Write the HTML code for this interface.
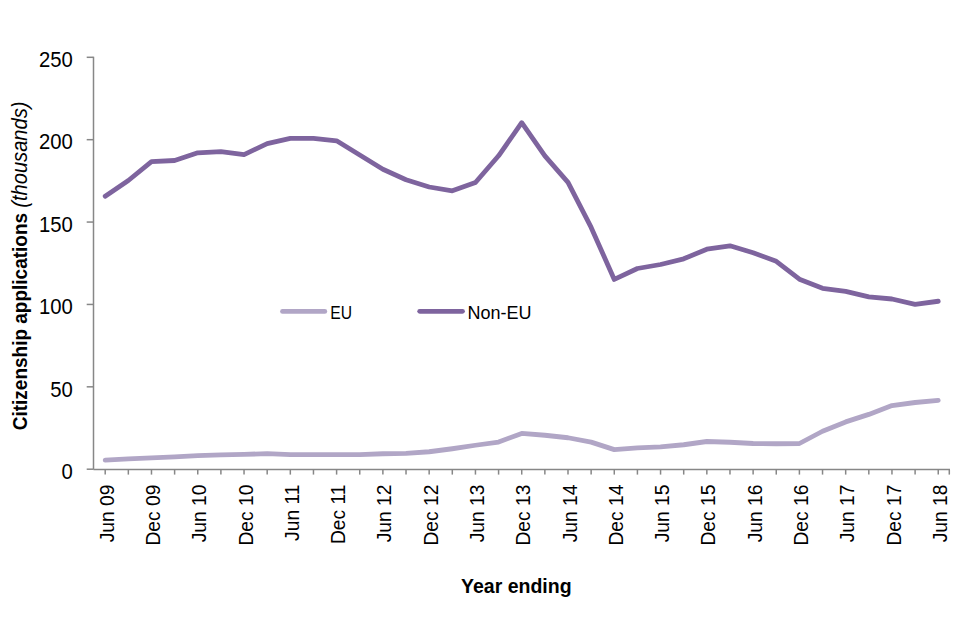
<!DOCTYPE html>
<html><head><meta charset="utf-8"><title>Citizenship applications</title>
<style>html,body{margin:0;padding:0;background:#fff;width:960px;height:640px;overflow:hidden;font-family:"Liberation Sans",sans-serif;}svg{display:block}</style>
</head><body>
<svg width="960" height="640" viewBox="0 0 960 640">
<rect width="960" height="640" fill="#fff"/>
<g stroke="#878787" stroke-width="1.5" fill="none" shape-rendering="auto">
<line x1="93.5" y1="56.8" x2="93.5" y2="469.5"/>
<line x1="86.7" y1="469.20" x2="93.5" y2="469.20"/>
<line x1="86.7" y1="386.82" x2="93.5" y2="386.82"/>
<line x1="86.7" y1="304.44" x2="93.5" y2="304.44"/>
<line x1="86.7" y1="222.06" x2="93.5" y2="222.06"/>
<line x1="86.7" y1="139.68" x2="93.5" y2="139.68"/>
<line x1="86.7" y1="57.30" x2="93.5" y2="57.30"/>
<line x1="93.5" y1="469.6" x2="950" y2="469.6"/>
<line x1="105.20" y1="469.6" x2="105.20" y2="474.6"/>
<line x1="128.34" y1="469.6" x2="128.34" y2="474.6"/>
<line x1="151.48" y1="469.6" x2="151.48" y2="474.6"/>
<line x1="174.62" y1="469.6" x2="174.62" y2="474.6"/>
<line x1="197.76" y1="469.6" x2="197.76" y2="474.6"/>
<line x1="220.90" y1="469.6" x2="220.90" y2="474.6"/>
<line x1="244.04" y1="469.6" x2="244.04" y2="474.6"/>
<line x1="267.18" y1="469.6" x2="267.18" y2="474.6"/>
<line x1="290.32" y1="469.6" x2="290.32" y2="474.6"/>
<line x1="313.46" y1="469.6" x2="313.46" y2="474.6"/>
<line x1="336.60" y1="469.6" x2="336.60" y2="474.6"/>
<line x1="359.74" y1="469.6" x2="359.74" y2="474.6"/>
<line x1="382.88" y1="469.6" x2="382.88" y2="474.6"/>
<line x1="406.02" y1="469.6" x2="406.02" y2="474.6"/>
<line x1="429.16" y1="469.6" x2="429.16" y2="474.6"/>
<line x1="452.30" y1="469.6" x2="452.30" y2="474.6"/>
<line x1="475.44" y1="469.6" x2="475.44" y2="474.6"/>
<line x1="498.58" y1="469.6" x2="498.58" y2="474.6"/>
<line x1="521.72" y1="469.6" x2="521.72" y2="474.6"/>
<line x1="544.86" y1="469.6" x2="544.86" y2="474.6"/>
<line x1="568.00" y1="469.6" x2="568.00" y2="474.6"/>
<line x1="591.14" y1="469.6" x2="591.14" y2="474.6"/>
<line x1="614.28" y1="469.6" x2="614.28" y2="474.6"/>
<line x1="637.42" y1="469.6" x2="637.42" y2="474.6"/>
<line x1="660.56" y1="469.6" x2="660.56" y2="474.6"/>
<line x1="683.70" y1="469.6" x2="683.70" y2="474.6"/>
<line x1="706.84" y1="469.6" x2="706.84" y2="474.6"/>
<line x1="729.98" y1="469.6" x2="729.98" y2="474.6"/>
<line x1="753.12" y1="469.6" x2="753.12" y2="474.6"/>
<line x1="776.26" y1="469.6" x2="776.26" y2="474.6"/>
<line x1="799.40" y1="469.6" x2="799.40" y2="474.6"/>
<line x1="822.54" y1="469.6" x2="822.54" y2="474.6"/>
<line x1="845.68" y1="469.6" x2="845.68" y2="474.6"/>
<line x1="868.82" y1="469.6" x2="868.82" y2="474.6"/>
<line x1="891.96" y1="469.6" x2="891.96" y2="474.6"/>
<line x1="915.10" y1="469.6" x2="915.10" y2="474.6"/>
<line x1="938.24" y1="469.6" x2="938.24" y2="474.6"/>
<line x1="949.3" y1="469.6" x2="949.3" y2="474.6"/>
</g>
<g font-family="Liberation Sans, sans-serif" font-size="20.7" fill="#000" text-anchor="end">
<text transform="translate(72.9,478.90) scale(0.98,1.07)">0</text>
<text transform="translate(72.9,396.52) scale(0.98,1.07)">50</text>
<text transform="translate(72.9,314.14) scale(0.98,1.07)">100</text>
<text transform="translate(72.9,231.76) scale(0.98,1.07)">150</text>
<text transform="translate(72.9,149.38) scale(0.98,1.07)">200</text>
<text transform="translate(72.9,67.00) scale(0.98,1.07)">250</text>
</g>
<g font-family="Liberation Sans, sans-serif" font-size="20" fill="#000" text-anchor="end">
<text transform="translate(113.80,484.6) rotate(-90) scale(0.962,1)">Jun 09</text>
<text transform="translate(160.08,484.6) rotate(-90) scale(0.962,1)">Dec 09</text>
<text transform="translate(206.36,484.6) rotate(-90) scale(0.962,1)">Jun 10</text>
<text transform="translate(252.64,484.6) rotate(-90) scale(0.962,1)">Dec 10</text>
<text transform="translate(298.92,484.6) rotate(-90) scale(0.962,1)">Jun 11</text>
<text transform="translate(345.20,484.6) rotate(-90) scale(0.962,1)">Dec 11</text>
<text transform="translate(391.48,484.6) rotate(-90) scale(0.962,1)">Jun 12</text>
<text transform="translate(437.76,484.6) rotate(-90) scale(0.962,1)">Dec 12</text>
<text transform="translate(484.04,484.6) rotate(-90) scale(0.962,1)">Jun 13</text>
<text transform="translate(530.32,484.6) rotate(-90) scale(0.962,1)">Dec 13</text>
<text transform="translate(576.60,484.6) rotate(-90) scale(0.962,1)">Jun 14</text>
<text transform="translate(622.88,484.6) rotate(-90) scale(0.962,1)">Dec 14</text>
<text transform="translate(669.16,484.6) rotate(-90) scale(0.962,1)">Jun 15</text>
<text transform="translate(715.44,484.6) rotate(-90) scale(0.962,1)">Dec 15</text>
<text transform="translate(761.72,484.6) rotate(-90) scale(0.962,1)">Jun 16</text>
<text transform="translate(808.00,484.6) rotate(-90) scale(0.962,1)">Dec 16</text>
<text transform="translate(854.28,484.6) rotate(-90) scale(0.962,1)">Jun 17</text>
<text transform="translate(900.56,484.6) rotate(-90) scale(0.962,1)">Dec 17</text>
<text transform="translate(946.84,484.6) rotate(-90) scale(0.962,1)">Jun 18</text>
</g>
<polyline points="105.20,460.20 128.34,458.90 151.48,457.90 174.62,456.90 197.76,455.60 220.90,454.80 244.04,454.30 267.18,453.70 290.32,454.60 313.46,454.60 336.60,454.70 359.74,454.60 382.88,453.75 406.02,453.40 429.16,451.75 452.30,448.75 475.44,445.25 498.58,442.10 521.72,433.40 544.86,435.25 568.00,437.75 591.14,442.10 614.28,449.60 637.42,447.80 660.56,446.90 683.70,444.75 706.84,441.50 729.98,442.25 753.12,443.50 776.26,443.75 799.40,443.50 822.54,431.25 845.68,421.90 868.82,414.40 891.96,405.60 915.10,402.50 938.24,400.40" fill="none" stroke="#b1a6c6" stroke-width="4.8" stroke-linejoin="round" stroke-linecap="round"/>
<polyline points="105.20,196.20 128.34,180.50 151.48,161.70 174.62,160.50 197.76,152.80 220.90,151.70 244.04,154.70 267.18,143.60 290.32,138.30 313.46,138.30 336.60,140.80 359.74,155.00 382.88,169.20 406.02,179.70 429.16,187.00 452.30,190.80 475.44,182.50 498.58,155.80 521.72,122.70 544.86,155.90 568.00,182.40 591.14,227.40 614.28,279.40 637.42,268.50 660.56,264.50 683.70,258.80 706.84,249.20 729.98,245.80 753.12,252.80 776.26,261.30 799.40,279.20 822.54,288.30 845.68,291.30 868.82,296.90 891.96,299.00 915.10,304.40 938.24,301.25" fill="none" stroke="#7e649e" stroke-width="4.8" stroke-linejoin="round" stroke-linecap="round"/>
<line x1="282.5" y1="311.4" x2="324.8" y2="311.4" stroke="#b1a6c6" stroke-width="4.8" stroke-linecap="round"/>
<line x1="419.7" y1="311.3" x2="462.5" y2="311.3" stroke="#7e649e" stroke-width="4.8" stroke-linecap="round"/>
<g font-family="Liberation Sans, sans-serif" font-size="18" fill="#000">
<text transform="translate(330.2,319.2) scale(0.87,1.02)">EU</text>
<text x="467.6" y="319.3">Non-EU</text>
</g>
<text x="516.3" y="592.9" font-family="Liberation Sans, sans-serif" font-size="19.5" font-weight="bold" text-anchor="middle">Year ending</text>
<text transform="translate(27,430.2) rotate(-90) scale(1,1.07)" font-family="Liberation Sans, sans-serif" font-size="19" text-anchor="start"><tspan font-weight="bold">Citizenship applications </tspan><tspan font-style="italic" font-size="20.1">(thousands)</tspan></text>
</svg>
</body></html>
